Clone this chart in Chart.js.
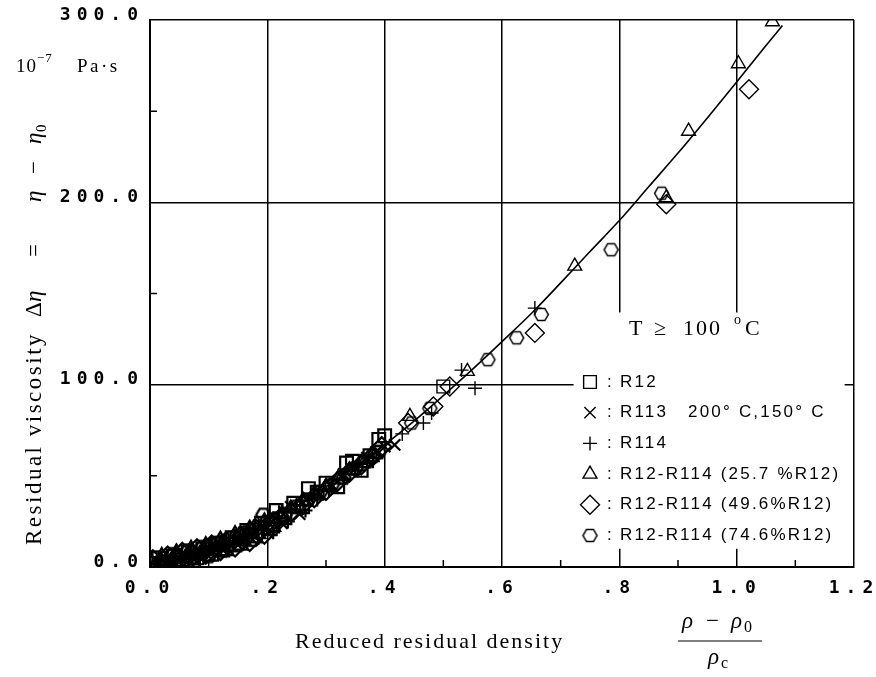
<!DOCTYPE html>
<html><head><meta charset="utf-8">
<script src="https://cdn.jsdelivr.net/npm/chart.js"></script>
<style>html,body{margin:0;padding:0;background:#fff;}#wrap{width:876px;height:677px;}</style>
</head><body><div id="wrap"><canvas id="c" width="876" height="677"></canvas></div>
<script>
// ---------- data ----------
const X_TICKS = [0, 0.2, 0.4, 0.6, 0.8, 1.0, 1.2];
const X_TICK_LABELS = ['0.0', '.2', '.4', '.6', '.8', '1.0', '1.2'];
const Y_TICKS = [0, 100, 200, 300];
const Y_TICK_LABELS = ['0.0', '100.0', '200.0', '300.0'];
const X_MINOR = [0.1, 0.3, 0.5, 0.7, 0.9, 1.1];
const Y_MINOR = [50, 150, 250];

const SERIES_NAMES = ['R12', 'R113', 'R114', 'R12-R114 (25.7 %R12)', 'R12-R114 (49.6%R12)', 'R12-R114 (74.6%R12)'];
const R113_NOTE = '200° C,150° C';

const r12_x = [0.005,0.015,0.03,0.04,0.055,0.065,0.08,0.09,0.105,0.115,0.13,0.14,0.155,0.165,0.18,0.19,0.205,0.215,0.23,0.245,0.26,0.27,0.285,0.30,0.32,0.335,0.345,0.36,0.375,0.39,0.40,0.50];
const r12_y = [2,5,1.5,6,4,8,5,10,7,13,10,16,13,20,17,24,21,31,27,35,33,43,41,46,44,57,58,53,61,70,72,99];

const r113_x = [0.01,0.025,0.035,0.05,0.06,0.075,0.085,0.10,0.11,0.125,0.135,0.15,0.16,0.175,0.185,0.20,0.21,0.225,0.24,0.255,0.27,0.29,0.31,0.33,0.35,0.37,0.385,0.40,0.417];
const r113_y = [4,2,5,3,7,4,9,6,12,9,15,12,19,15,23,19,28,24,33,29,38,40,44,51,54,60,63,66,67];

const r114_x = [0.015,0.03,0.045,0.06,0.07,0.085,0.095,0.11,0.12,0.135,0.145,0.16,0.17,0.185,0.195,0.21,0.22,0.235,0.25,0.265,0.285,0.305,0.33,0.355,0.38,0.43,0.466,0.48,0.531,0.554,0.656];
const r114_y = [3,6,2,5,9,4,11,7,14,9,17,13,21,16,25,19,30,25,34,31,37,42,48,53,58,73,79,84.5,108,98,142];

const mix257_x = [0.01,0.02,0.035,0.045,0.06,0.07,0.085,0.095,0.11,0.12,0.135,0.145,0.16,0.17,0.185,0.195,0.21,0.225,0.24,0.26,0.28,0.30,0.32,0.34,0.36,0.38,0.443,0.541,0.724,0.88,0.918,1.003,1.061];
const mix257_y = [1,6,3,8,5,10,7,12,9,15,11,18,14,21,18,25,22,29,32,36,40,44,48,53,57,62,82.6,107.3,165,202.5,239,276,299];

const mix496_x = [0.005,0.02,0.03,0.045,0.055,0.07,0.08,0.095,0.105,0.12,0.13,0.145,0.155,0.17,0.18,0.195,0.205,0.22,0.24,0.26,0.28,0.30,0.32,0.34,0.36,0.38,0.395,0.44,0.483,0.511,0.656,0.88,1.021];
const mix496_y = [4,2,6,4,8,5,10,7,12,9,14,11,17,14,21,18,24,26,30,34,38,42,47,52,56,61,66,79,88,99,128.4,199,262];

const mix746_x = [0.01,0.02,0.04,0.05,0.065,0.075,0.09,0.1,0.115,0.125,0.14,0.15,0.165,0.175,0.193,0.21,0.23,0.25,0.27,0.29,0.31,0.33,0.35,0.37,0.39,0.446,0.477,0.576,0.625,0.667,0.786,0.872];
const mix746_y = [5,1,7,3,9,5,11,6,13,9,16,12,19,15,28.6,26,29,33,37,41,45,49,54,58,63,79,87,113.7,125.7,138.5,174,205];

// fitted curve
const curve_x = [0, 0.05, 0.1, 0.15, 0.2, 0.25, 0.3, 0.35, 0.4, 0.45, 0.5, 0.55, 0.6, 0.65, 0.7, 0.75, 0.8, 0.85, 0.9, 0.95, 1.0, 1.05, 1.078];
const curve_y = [0, 3, 8.4, 15.5, 24, 33, 44, 55, 67, 80, 94, 108.5, 123.6, 139, 155.8, 173, 190, 208.5, 227, 246.3, 266, 286, 297];

// ---------- layout / style constants ----------
const BOX_X = [0.722, 1.184];   // white legend panel, in axis units
const BOX_Y = [10, 139.6];
const DENSE_LIMIT = 0.42;       // heavier marker strokes in the crowded low-density part
const TICK_SPACING = '6px';
const SERIF = '"Liberation Serif", "DejaVu Serif", serif';
const SANS = '"Liberation Sans", Arial, sans-serif';

function hexagon(r, lw) {
  const s = Math.ceil(2 * r + lw * 2 + 2);
  const cv = document.createElement('canvas');
  cv.width = s; cv.height = s;
  const g = cv.getContext('2d');
  g.strokeStyle = '#000'; g.lineWidth = lw;
  g.beginPath();
  for (let k = 0; k < 6; k++) {
    const a = Math.PI / 3 * k;
    const px = s / 2 + r * Math.cos(a), py = s / 2 + r * Math.sin(a);
    if (k) g.lineTo(px, py); else g.moveTo(px, py);
  }
  g.closePath(); g.stroke();
  return cv;
}
const HEX = hexagon(7, 1.5);
const HEX_BOLD = hexagon(7, 2.3);

const STYLES = [
  {pointStyle: 'rect', radius: 9},
  {pointStyle: 'crossRot', radius: 8},
  {pointStyle: 'cross', radius: 7},
  {pointStyle: 'triangle', radius: 8},
  {pointStyle: 'rectRot', radius: 9.5},
  {pointStyle: HEX, radius: 7}
];
const XS = [r12_x, r113_x, r114_x, mix257_x, mix496_x, mix746_x];
const YS = [r12_y, r113_y, r114_y, mix257_y, mix496_y, mix746_y];

const datasets = SERIES_NAMES.map((name, i) => ({
  label: name,
  data: XS[i].map((x, j) => ({x: x, y: YS[i][j]})),
  pointStyle: i === 5 ? (ctx => (ctx.raw && ctx.raw.x < DENSE_LIMIT) ? HEX_BOLD : HEX) : STYLES[i].pointStyle,
  pointRadius: STYLES[i].radius,
  pointHoverRadius: STYLES[i].radius,
  borderColor: '#000',
  backgroundColor: 'rgba(0,0,0,0)',
  pointBorderWidth: ctx => (ctx.raw && ctx.raw.x < DENSE_LIMIT) ? 2.2 : 1.4,
  showLine: false
}));
datasets.unshift({
  label: 'fit',
  data: curve_x.map((x, j) => ({x: x, y: curve_y[j]})),
  showLine: true,
  borderColor: '#000',
  borderWidth: 1.6,
  pointRadius: 0,
  fill: false,
  cubicInterpolationMode: 'monotone'
});

// draw pieces of text at given offsets along the baseline
function drawAt(c, parts, y) {
  parts.forEach(p => {
    c.font = p[1];
    c.fillText(p[0], p[2], y + (p[3] || 0));
  });
}

const deco = {
  id: 'deco',
  beforeDraw(chart) {
    const c = chart.ctx;
    c.save(); c.fillStyle = '#fff'; c.fillRect(0, 0, chart.width, chart.height); c.restore();
    c.letterSpacing = TICK_SPACING;
  },
  beforeDatasetsDraw(chart) {
    const c = chart.ctx;
    c.letterSpacing = '0px';
    const xs = chart.scales.x, ys = chart.scales.y;
    const l = xs.getPixelForValue(BOX_X[0]), r = xs.getPixelForValue(BOX_X[1]);
    const t = ys.getPixelForValue(BOX_Y[1]), b = ys.getPixelForValue(BOX_Y[0]);
    c.save();
    c.fillStyle = '#fff';
    c.fillRect(l, t, r - l, b - t);
    c.strokeStyle = '#000'; c.lineWidth = 1.5;
    c.beginPath();
    X_MINOR.forEach(v => { const p = xs.getPixelForValue(v); c.moveTo(p, ys.bottom); c.lineTo(p, ys.bottom - 7); });
    Y_MINOR.forEach(v => { const p = ys.getPixelForValue(v); c.moveTo(xs.left, p); c.lineTo(xs.left + 7, p); });
    c.stroke();
    c.restore();
  },
  afterDraw(chart) {
    const c = chart.ctx;
    c.save();
    c.letterSpacing = '0px';
    c.fillStyle = '#000';
    c.textBaseline = 'alphabetic';
    c.textAlign = 'left';

    // unit label
    c.font = '19px ' + SERIF;
    c.letterSpacing = '1px';
    c.fillText('10', 16, 72);
    c.font = '13px ' + SERIF;
    c.fillText('−7', 37, 62);
    c.font = '19px ' + SERIF;
    c.letterSpacing = '2.5px';
    c.fillText('Pa·s', 77, 72);

    // y title (rotated)
    c.save();
    c.translate(41, 545);
    c.rotate(-Math.PI / 2);
    c.letterSpacing = '2.5px';
    c.font = '23px ' + SERIF;
    c.fillText('Residual viscosity', 0, 0);
    c.letterSpacing = '0px';
    const R = '23px ' + SERIF, I = 'italic 23px ' + SERIF;
    drawAt(c, [['Δ', R, 228], ['η', I, 243], ['=', R, 288], ['η', I, 343], ['−', R, 371], ['η', I, 401], ['0', '15px ' + SERIF, 413, 5]], 0);
    c.restore();

    // x title
    c.letterSpacing = '2px';
    c.font = '22px ' + SERIF;
    c.fillText('Reduced residual density', 295, 648);
    c.letterSpacing = '0px';
    drawAt(c, [['ρ', 'italic 23px ' + SERIF, 682], ['−', '23px ' + SERIF, 706], ['ρ', 'italic 23px ' + SERIF, 731], ['0', '16px ' + SERIF, 744, 4]], 628);
    c.lineWidth = 1.2; c.strokeStyle = '#000';
    c.beginPath(); c.moveTo(678, 641); c.lineTo(762, 641); c.stroke();
    drawAt(c, [['ρ', 'italic 23px ' + SERIF, 708], ['c', '16px ' + SERIF, 721, 4]], 664);

    // T >= 100 C
    c.font = '22px ' + SERIF;
    c.fillText('T', 629, 335);
    c.fillText('≥', 654, 335);
    c.letterSpacing = '2px';
    c.fillText('100', 683, 335);
    c.letterSpacing = '0px';
    c.font = '14px ' + SERIF;
    c.fillText('o', 734, 324);
    c.font = '22px ' + SERIF;
    c.fillText('C', 745, 335);

    // legend
    const LX = 590, LY0 = 382, LDY = 30.7;
    SERIES_NAMES.forEach((name, i) => {
      const y = LY0 + i * LDY;
      c.save();
      c.strokeStyle = '#000'; c.fillStyle = 'rgba(0,0,0,0)'; c.lineWidth = 1.4;
      Chart.helpers.drawPoint(c, {pointStyle: STYLES[i].pointStyle, rotation: 0, radius: STYLES[i].radius, borderWidth: 1.4}, LX, y);
      c.restore();
      c.fillStyle = '#000';
      c.textBaseline = 'middle';
      c.font = '17px ' + SANS;
      c.letterSpacing = '2.2px';
      c.fillText(':', 607, y);
      c.fillText(name, 620, y);
      if (i === 1) c.fillText(R113_NOTE, 688, y);
    });
    c.restore();
  }
};

const TICK_FONT = {family: '"DejaVu Sans Mono", monospace', size: 18, weight: 'bold'};

new Chart(document.getElementById('c'), {
  type: 'scatter',
  data: {datasets: datasets},
  options: {
    responsive: false,
    animation: false,
    devicePixelRatio: 1,
    layout: {padding: {left: 0, right: 22, top: 20, bottom: 0}},
    plugins: {legend: {display: false}, tooltip: {enabled: false}, title: {display: false}},
    scales: {
      x: {
        type: 'linear', min: 0, max: 1.2,
        afterBuildTicks: s => { s.ticks = X_TICKS.map(v => ({value: v})); },
        afterFit: s => { s.height = 110; s.paddingLeft = 0; s.paddingRight = 0; },
        ticks: {
          color: '#000', font: TICK_FONT,
          padding: 11, maxRotation: 0, autoSkip: false,
          callback: (v, i) => X_TICK_LABELS[i]
        },
        grid: {color: '#000', lineWidth: 1.5, drawTicks: false},
        border: {display: true, color: '#000', width: 2}
      },
      y: {
        type: 'linear', min: 0, max: 300,
        afterBuildTicks: s => { s.ticks = Y_TICKS.map(v => ({value: v})); },
        afterFit: s => { s.width = 150; },
        ticks: {
          color: '#000', font: TICK_FONT,
          padding: 6, autoSkip: false, labelOffset: -5,
          callback: (v, i) => Y_TICK_LABELS[i]
        },
        grid: {color: '#000', lineWidth: 1.5, drawTicks: false},
        border: {display: true, color: '#000', width: 2}
      }
    }
  },
  plugins: [deco]
});
</script>
</body></html>
